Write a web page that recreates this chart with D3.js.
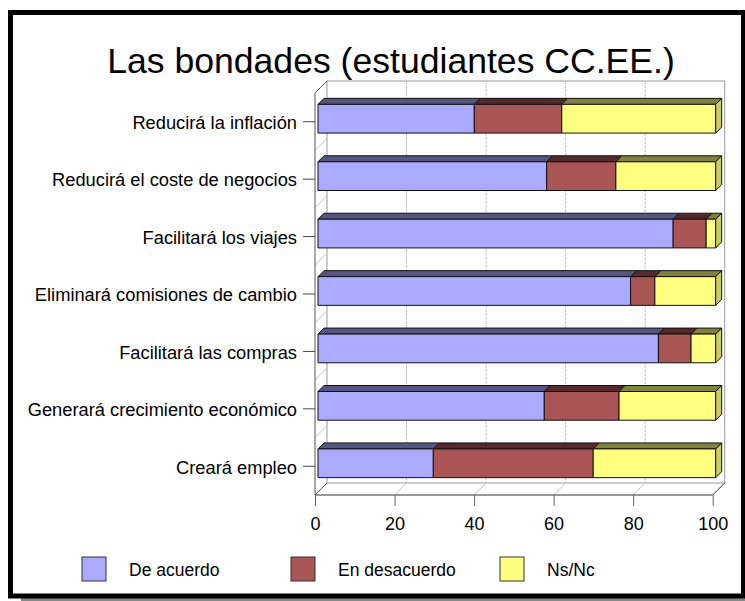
<!DOCTYPE html>
<html>
<head>
<meta charset="utf-8">
<script src="https://cdn.jsdelivr.net/npm/d3@7/dist/d3.min.js"></script>
<style>
  body { margin: 0; background: #fff; }
  svg { display: block; font-family: "Liberation Sans", Arial, sans-serif; }
</style>
</head>
<body>
<svg width="745" height="601"></svg>
<script>
const categories = [
  'Reducirá la inflación',
  'Reducirá el coste de negocios',
  'Facilitará los viajes',
  'Eliminará comisiones de cambio',
  'Facilitará las compras',
  'Generará crecimiento económico',
  'Creará empleo'
];
const deAcuerdo    = [39.3, 57.5, 89.3, 78.6, 85.6, 56.9, 29.0];
const enDesacuerdo = [22.0, 17.4,  8.3,  6.1,  8.2, 18.8, 40.2];
const nsNc         = [38.7, 25.1,  2.4, 15.3,  6.2, 24.3, 30.8];
const seriesNames = ['De acuerdo', 'En desacuerdo', 'Ns/Nc'];
const xTicks = [0, 20, 40, 60, 80, 100];

const front = ['#aaaaff', '#aa5555', '#ffff80'];
const topCol = ['#55557f', '#552a2a', '#80803f'];
const sideCol = ['#8888cc', '#884444', '#cccc66'];

const svg = d3.select('svg');

// frame with shadow
svg.append('rect')
  .attr('x', 21).attr('y', 597).attr('width', 724).attr('height', 4)
  .attr('fill', '#888');
svg.append('rect')
  .attr('x', 10.5).attr('y', 12.5).attr('width', 733).attr('height', 583.5)
  .attr('fill', '#fff').attr('stroke', '#000').attr('stroke-width', 5);

svg.append('text')
  .attr('x', 391).attr('y', 73)
  .attr('text-anchor', 'middle')
  .attr('font-size', 35.6)
  .text('Las bondades (estudiantes CC.EE.)');

const wall = 12;      // depth of the plot box
const barOff = 3;     // bars sit a little behind the front plane
const barDepth = 6;

const x = d3.scaleLinear().domain([0, 100]).range([315, 712.7]);
const y = d3.scaleBand().domain(categories).range([93, 495])
  .paddingInner(0.5).paddingOuter(0.25);

const g = svg.append('g');

// back wall
g.append('rect')
  .attr('x', x(0) + wall).attr('y', 93 - wall)
  .attr('width', x(100) - x(0)).attr('height', 495 - 93)
  .attr('fill', 'none').attr('stroke', '#999');

// vertical gridlines on back wall
g.selectAll('.vgrid').data(xTicks.slice(1, -1))
  .enter().append('line')
    .attr('x1', d => x(d) + wall).attr('x2', d => x(d) + wall)
    .attr('y1', 93 - wall).attr('y2', 495 - wall)
    .attr('stroke', '#c4c4c4').attr('stroke-dasharray', '3,1');

// floor diagonals
g.selectAll('.fgrid').data(xTicks)
  .enter().append('line')
    .attr('x1', d => x(d)).attr('x2', d => x(d) + wall)
    .attr('y1', 495).attr('y2', 495 - wall)
    .attr('stroke', d => d === 100 ? '#333' : '#c4c4c4');

// left wall diagonals at band boundaries
const bounds = categories.slice(1).map(c => y(c) - y.step() * y.paddingInner() / 2);
g.selectAll('.lgrid').data(bounds)
  .enter().append('line')
    .attr('x1', x(0)).attr('x2', x(0) + wall)
    .attr('y1', d => d).attr('y2', d => d - wall)
    .attr('stroke', '#c4c4c4');

g.append('line')
  .attr('x1', x(0)).attr('x2', x(0) + wall)
  .attr('y1', 93).attr('y2', 93 - wall)
  .attr('stroke', '#666');
g.append('line')
  .attr('x1', x(0)).attr('x2', x(0) + wall)
  .attr('y1', 495).attr('y2', 495 - wall)
  .attr('stroke', '#666');

// front edges
g.append('line')
  .attr('x1', x(0)).attr('x2', x(0)).attr('y1', 93).attr('y2', 495)
  .attr('stroke', '#555');
g.append('line')
  .attr('x1', x(0)).attr('x2', x(100)).attr('y1', 495).attr('y2', 495)
  .attr('stroke', '#333');

// bars
const stacked = categories.map((c, i) => {
  const vals = [deAcuerdo[i], enDesacuerdo[i], nsNc[i]];
  let acc = 0;
  return vals.map((v, k) => {
    const seg = { cat: c, k, x0: acc, x1: acc + v, last: k === vals.length - 1 };
    acc += v;
    return seg;
  });
});

const barsG = g.append('g').attr('stroke', '#111').attr('stroke-width', 1)
  .attr('stroke-linejoin', 'round');

stacked.forEach(row => {
  row.forEach(s => {
    const x0 = x(s.x0) + barOff, x1 = x(s.x1) + barOff;
    const yt = y(s.cat) - barOff, yb = yt + y.bandwidth();
    const d = barDepth;
    barsG.append('polygon')
      .attr('points', [[x0, yt], [x1, yt], [x1 + d, yt - d], [x0 + d, yt - d]].join(' '))
      .attr('fill', topCol[s.k]);
    barsG.append('rect')
      .attr('x', x0).attr('y', yt).attr('width', x1 - x0).attr('height', yb - yt)
      .attr('fill', front[s.k]);
    if (s.last) {
      barsG.append('polygon')
        .attr('points', [[x1, yt], [x1 + d, yt - d], [x1 + d, yb - d], [x1, yb]].join(' '))
        .attr('fill', sideCol[s.k]);
    }
  });
});

// axes
const xAxisG = g.append('g')
  .attr('transform', 'translate(0,495)')
  .call(d3.axisBottom(x).tickValues(xTicks).tickSize(11).tickPadding(11));
xAxisG.select('.domain').remove();
xAxisG.selectAll('line').attr('stroke', '#666');
xAxisG.selectAll('text').attr('font-size', 18).attr('fill', '#000')
  .attr('font-family', '"Liberation Sans", Arial, sans-serif');

const yAxisG = g.append('g')
  .attr('transform', `translate(${x(0)},0)`)
  .call(d3.axisLeft(y).tickSize(12).tickPadding(6));
yAxisG.select('.domain').remove();
yAxisG.selectAll('line').attr('stroke', '#444');
yAxisG.selectAll('text').attr('font-size', 18.3).attr('fill', '#000')
  .attr('font-family', '"Liberation Sans", Arial, sans-serif')
  .attr('dy', '0.4em');

// legend
const legend = svg.append('g').selectAll('g').data(seriesNames)
  .enter().append('g')
    .attr('transform', (d, i) => `translate(${82 + i * 209},557)`);
legend.append('rect')
  .attr('width', 24).attr('height', 24)
  .attr('fill', (d, i) => front[i]).attr('stroke', '#333');
legend.append('text')
  .attr('x', 47).attr('y', 19)
  .attr('font-size', 17.5)
  .text(d => d);
</script>
</body>
</html>
